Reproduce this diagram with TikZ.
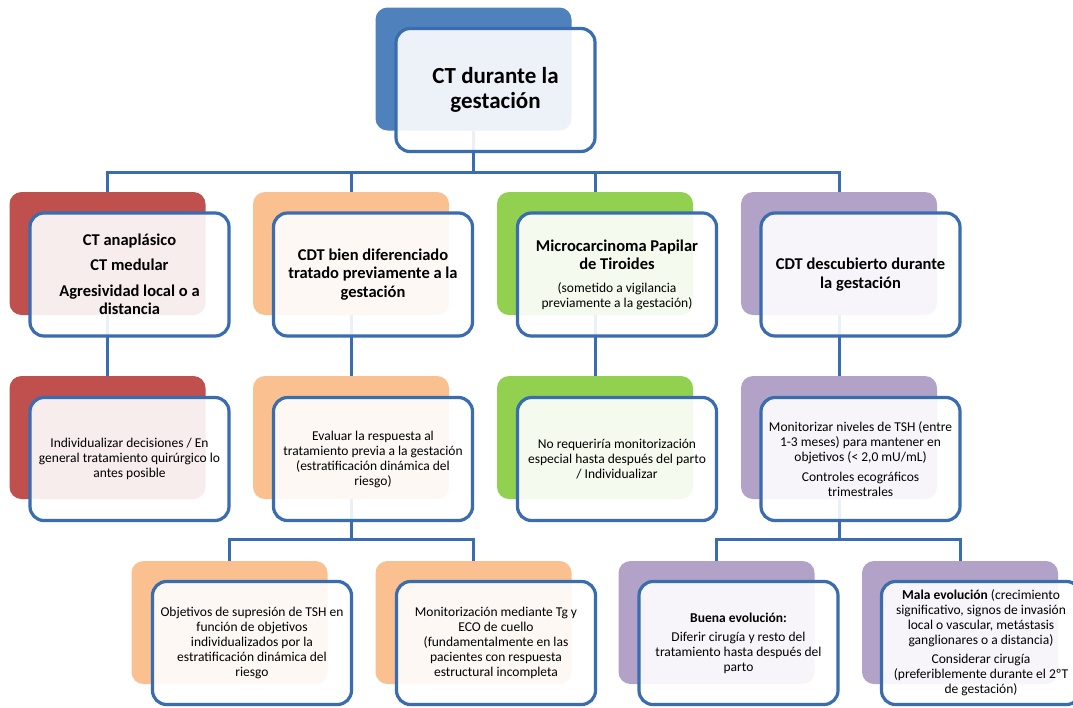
\documentclass[tikz,border=0pt]{standalone}
\usepackage{fontspec}
\setmainfont{Carlito}
\definecolor{cblue}{RGB}{79,129,189}
\definecolor{cred}{RGB}{192,80,77}
\definecolor{corange}{RGB}{250,192,144}
\definecolor{cgreen}{RGB}{146,208,80}
\definecolor{cpurple}{RGB}{178,162,199}
\definecolor{lineblue}{RGB}{58,108,176}
\newcommand{\nrmtxt}{\mdseries\fontsize{13.5}{15}\selectfont}
\begin{document}
\begin{tikzpicture}[x=1pt,y=-1pt,
  back/.style={rectangle, rounded corners=12pt, minimum width=196pt, minimum height=123pt, inner sep=0pt, outer sep=0pt},
  front/.style={rectangle, rounded corners=14pt, minimum width=199pt, minimum height=123pt, inner sep=0pt, outer sep=0pt, draw=lineblue, line width=3.2pt, fill=white, fill opacity=0.9, text opacity=1, align=center, font=\nrmtxt},
  boldone/.style={font=\bfseries\fontsize{16.5}{18.5}\selectfont},
  conn/.style={draw=lineblue, line width=3pt}]
\useasboundingbox (0,0) rectangle (1073,707);
\fill[white] (0,0) rectangle (1073,707);
% back boxes
\node[back, fill=cblue] (topb) at (473.5,69) {};
\node[back, fill=cred] (r1b) at (107.5,253.5) {};
\node[back, fill=corange] (o1b) at (351,253.5) {};
\node[back, fill=cgreen] (g1b) at (595,253.5) {};
\node[back, fill=cpurple] (p1b) at (839,253.5) {};
\node[back, fill=cred] (r2b) at (107.5,437.5) {};
\node[back, fill=corange] (o2b) at (351,437.5) {};
\node[back, fill=cgreen] (g2b) at (595,437.5) {};
\node[back, fill=cpurple] (p2b) at (839,437.5) {};
\node[back, fill=corange] (o3b) at (229.5,622.5) {};
\node[back, fill=corange] (o4b) at (473.5,622.5) {};
\node[back, fill=cpurple] (p3b) at (716.5,622.5) {};
\node[back, fill=cpurple] (p4b) at (960,622.5) {};
% bus coordinates
\coordinate (bus1) at (473.5,172);
\coordinate (bus2) at (351,539);
\coordinate (bus3) at (839,539);
% connectors
\draw[conn] (topb.south) -- (bus1);
\draw[conn] (r1b.north) |- (bus1);
\draw[conn] (o1b.north) |- (bus1);
\draw[conn] (g1b.north) |- (bus1);
\draw[conn] (p1b.north) |- (bus1);
\draw[conn] (r1b.south) -- (r2b.north);
\draw[conn] (o1b.south) -- (o2b.north);
\draw[conn] (g1b.south) -- (g2b.north);
\draw[conn] (p1b.south) -- (p2b.north);
\draw[conn] (o2b.south) -- (bus2);
\draw[conn] (o3b.north) |- (bus2);
\draw[conn] (o4b.north) |- (bus2);
\draw[conn] (p2b.south) -- (bus3);
\draw[conn] (p3b.north) |- (bus3);
\draw[conn] (p4b.north) |- (bus3);
% front boxes
\node[front, font=\bfseries\fontsize{23}{25}\selectfont] (topf) at (495.5,90) {CT durante la\\gestación};
\node[front, boldone] (r1f) at (129.5,274.5) {CT anaplásico\\[7pt]CT medular\\[7pt]Agresividad local o a\\distancia};
\node[front, boldone] (o1f) at (373,274.5) {CDT bien diferenciado\\tratado previamente a la\\gestación};
\node[front, boldone] (g1f) at (617,274.5) {Microcarcinoma Papilar\\de Tiroides\\[4pt]{\nrmtxt (sometido a vigilancia}\\[-3.5pt]{\nrmtxt previamente a la gestación)}};
\node[front, boldone] (p1f) at (860.5,274.5) {CDT descubierto durante\\la gestación};
\node[front] (r2f) at (129.5,459) {Individualizar decisiones / En\\general tratamiento quirúrgico lo\\antes posible};
\node[front] (o2f) at (373,459) {Evaluar la respuesta al\\tratamiento previa a la gestación\\(estratificación dinámica del\\riesgo)};
\node[front] (g2f) at (617,459) {No requeriría monitorización\\especial hasta después del parto\\/ Individualizar};
\node[front] (p2f) at (860.5,459) {Monitorizar niveles de TSH (entre\\1-3 meses) para mantener en\\objetivos (< 2,0 mU/mL)\\[5pt]Controles ecográficos\\trimestrales};
\node[front] (o3f) at (252,643) {Objetivos de supresión de TSH en\\función de objetivos\\individualizados por la\\estratificación dinámica del\\riesgo};
\node[front] (o4f) at (496,643) {Monitorización mediante Tg y\\ECO de cuello\\(fundamentalmente en las\\pacientes con respuesta\\estructural incompleta};
\node[front] (p3f) at (738.5,643) {{\bfseries Buena evolución:}\\[4pt]Diferir cirugía y resto del\\tratamiento hasta después del\\parto};
\node[front] (p4f) at (981,643) {{\bfseries Mala evolución} (crecimiento\\significativo, signos de invasión\\local o vascular, metástasis\\ganglionares o a distancia)\\[4pt]Considerar cirugía\\(preferiblemente durante el 2ºT\\de gestación)};
\end{tikzpicture}
\end{document}
